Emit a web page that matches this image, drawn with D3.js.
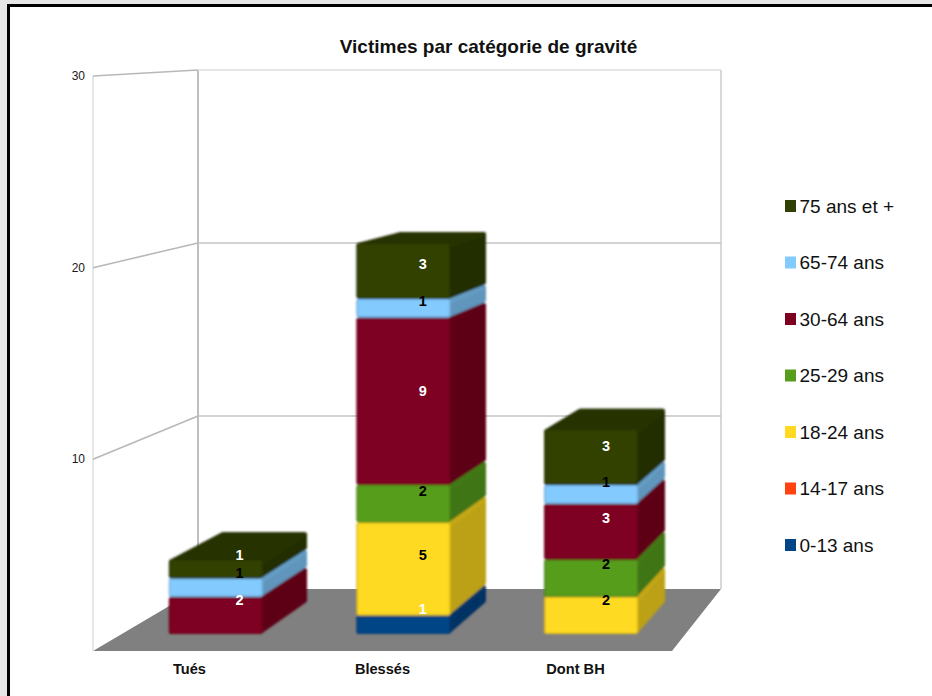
<!DOCTYPE html>
<html><head><meta charset="utf-8">
<script src="https://cdn.jsdelivr.net/npm/d3@7"></script>
<style>html,body{margin:0;padding:0;background:#fff}svg{display:block}text{font-family:"Liberation Sans",Arial,sans-serif}</style>
</head><body>
<script>
const title = "Victimes par catégorie de gravité";
const categories = ["Tués","Blessés","Dont BH"];
const seriesNames = ["0-13 ans","14-17 ans","18-24 ans","25-29 ans","30-64 ans","65-74 ans","75 ans et +"];
const seriesColors = ["#004586","#ff420e","#ffda20","#579d1c","#7e0021","#83caff","#314004"];
const labelColors = ["#fff","#fff","#000","#000","#fff","#000","#fff"];
const v0_13 = [0,1,0];
const v14_17 = [0,0,0];
const v18_24 = [0,5,2];
const v25_29 = [0,2,2];
const v30_64 = [2,9,3];
const v65_74 = [1,1,1];
const v75 = [1,3,3];
const seriesValues = [v0_13,v14_17,v18_24,v25_29,v30_64,v65_74,v75];
const axisTicks = [10,20,30];

const W=932,H=696;
const svg=d3.select("body").append("svg").attr("width",W).attr("height",H);
const defs=svg.append("defs");
defs.append("filter").attr("id","soft").attr("x","-5%").attr("y","-5%").attr("width","110%").attr("height","110%")
  .append("feGaussianBlur").attr("stdDeviation",0.8);

// page frame
svg.append("rect").attr("width",W).attr("height",H).attr("fill","#e6e6e6");
svg.append("rect").attr("x",7).attr("y",4).attr("width",W).attr("height",H).attr("fill","#000");
svg.append("rect").attr("x",10).attr("y",7).attr("width",W).attr("height",H).attr("fill","#fff");

// scales for the four planes of the 3D box
const yWallFront=d3.scaleLinear().domain([0,30]).range([651,76]);
const yWallBack=d3.scaleLinear().domain([0,30]).range([589,70]);
const yBarFront=d3.scaleLinear().domain([0,21]).range([634,243]);
const yBarBack=d3.scaleLinear().domain([0,21]).range([603,232]);
const xFront=d3.scaleBand().domain(categories).range([122,685]).paddingInner(0.5).paddingOuter(0.25);
const xBack=d3.scaleBand().domain(categories).range([175.25,709.75]).paddingInner(0.514).paddingOuter(0.25);
const xLabel=d3.scaleBand().domain(categories).range([93,672]);
const xBL=93,xBR=672,xWL=198,xWR=721;

const line=p=>"M"+p.map(d=>d.join(",")).join("L")+"Z";
const chart=svg.append("g");
chart.append("path").attr("d",line([[xBL,yWallFront(0)],[xBR,yWallFront(0)],[xWR,yWallBack(0)],[xWL,yWallBack(0)]])).attr("fill","#808080");

const grid="#b8b8b8";
chart.append("line").attr("x1",xBL).attr("x2",xBL).attr("y1",yWallFront(0)).attr("y2",yWallFront(30)).attr("stroke","#d8d8d8").attr("stroke-width",1.2);
chart.append("line").attr("x1",xWL).attr("x2",xWL).attr("y1",yWallBack(0)).attr("y2",yWallBack(30)).attr("stroke",grid).attr("stroke-width",1.8);
chart.append("line").attr("x1",xWR).attr("x2",xWR).attr("y1",yWallBack(0)).attr("y2",yWallBack(30)).attr("stroke","#c8c8c8").attr("stroke-width",1.4);
axisTicks.forEach(t=>{
  const c=t===30?"#dcdcdc":"#c4c4c4";
  chart.append("line").attr("x1",xWL).attr("x2",xWR).attr("y1",yWallBack(t)).attr("y2",yWallBack(t)).attr("stroke",c).attr("stroke-width",1.4);
  chart.append("line").attr("x1",xBL).attr("x2",xWL).attr("y1",yWallFront(t)).attr("y2",yWallBack(t)).attr("stroke",grid).attr("stroke-width",1.6);
  chart.append("text").attr("x",85).attr("y",yWallFront(t)+4).attr("text-anchor","end").attr("font-size",12).attr("fill","#1a1a1a").text(t);
});

// stacked 3D bars
const stack=d3.stack().keys(d3.range(seriesNames.length)).value((row,k)=>row[k]);
const rows=categories.map((c,i)=>seriesValues.map(s=>s[i]));
const layers=stack(rows);
const bars=chart.append("g").attr("filter","url(#soft)");
const labels=[];
categories.forEach((cat,ci)=>{
  const fl=xFront(cat),fr=fl+xFront.bandwidth(),bl=xBack(cat),br=bl+xBack.bandwidth();
  layers.forEach((layer,si)=>{
    const [a,b]=layer[ci];
    if(b===a) return;
    const col=d3.color(seriesColors[si]);
    const side=col.darker(0.85),top=col.darker(0.75);
    const edge=col.darker(0.35);
    const g=bars.append("g").attr("stroke-linejoin","round").attr("stroke-width",5);
    const ia=2.5;
    const face=(pts,fill,st)=>g.append("path").attr("d",line(pts)).attr("fill",fill).attr("stroke",st||fill);
    // whole silhouette first so outer corners round over
    face([[fl+ia,yBarFront(b)+ia],[bl+ia,yBarBack(b)+ia],[br-ia,yBarBack(b)+ia],[br-ia,yBarBack(a)-ia],[fr-ia,yBarFront(a)-ia],[fl+ia,yBarFront(a)-ia]],side);
    const tg=g.append("path").attr("d",line([[fl+ia,yBarFront(b)+ia],[bl+ia,yBarBack(b)+ia],[br-ia,yBarBack(b)+ia],[fr,yBarFront(b)+ia]])).attr("fill",top).attr("stroke",top);
    face([[fl+ia,yBarFront(b)+ia],[fr-ia,yBarFront(b)+ia],[fr-ia,yBarFront(a)-ia],[fl+ia,yBarFront(a)-ia]],edge);
    g.append("path").attr("d",line([[fl+ia,yBarFront(b)+ia],[fr-ia,yBarFront(b)+ia],[fr-ia,yBarFront(a)-ia],[fl+ia,yBarFront(a)-ia]])).attr("fill",col.formatHex()).attr("stroke",col.formatHex()).attr("stroke-width",2.5);
    labels.push({x:(fl+br)/2+1.5,y:(yBarFront((a+b)/2)+yBarBack((a+b)/2))/2,t:b-a,c:labelColors[si]});
  });
});
chart.append("g").selectAll("text").data(labels).join("text")
  .attr("x",d=>d.x).attr("y",d=>d.y+4.5).attr("text-anchor","middle")
  .attr("font-size",14.5).attr("font-weight","bold").attr("fill",d=>d.c).text(d=>d.t);

// category labels
chart.append("g").selectAll("text").data(categories).join("text")
  .attr("x",d=>xLabel(d)+xLabel.bandwidth()/2).attr("y",673.5).attr("text-anchor","middle")
  .attr("font-size",14.6).attr("font-weight","bold").attr("fill","#111").text(d=>d);

svg.append("text").attr("x",488.5).attr("y",53).attr("text-anchor","middle").attr("font-size",19).attr("font-weight","bold").attr("fill","#111").text(title);

// legend, top to bottom reversed
const yLegend=d3.scalePoint().domain(d3.range(seriesNames.length).reverse()).range([206,545]);
const leg=svg.append("g").selectAll("g").data(d3.range(seriesNames.length)).join("g").attr("transform",d=>`translate(785,${yLegend(d)})`);
leg.append("rect").attr("x",0).attr("y",-6).attr("width",11).attr("height",12).attr("fill",d=>seriesColors[d]);
leg.append("text").attr("x",14.5).attr("y",6.5).attr("font-size",19).attr("fill","#111").text(d=>seriesNames[d]);
</script>
</body></html>
